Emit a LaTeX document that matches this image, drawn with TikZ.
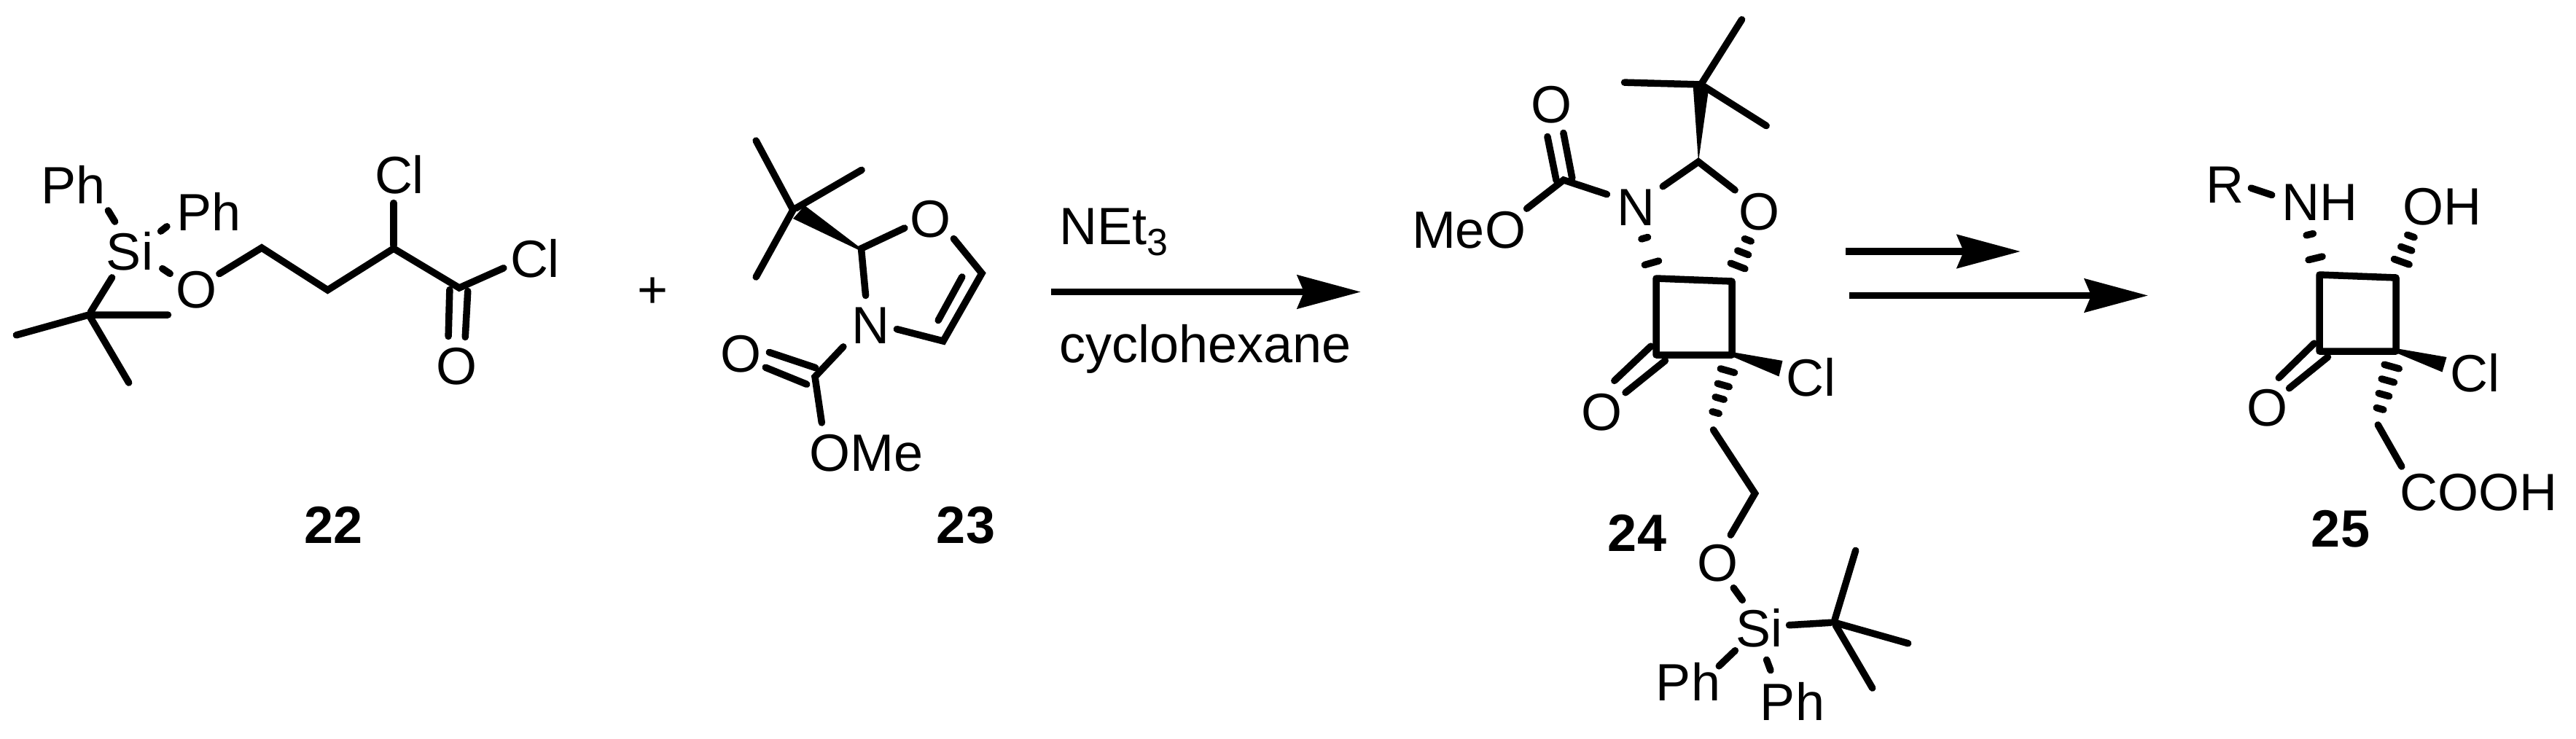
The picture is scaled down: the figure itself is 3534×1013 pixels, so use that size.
\documentclass[tikz,border=0pt]{standalone}
\usepackage{fontspec}
\setmainfont{Liberation Sans}
\usetikzlibrary{calc,arrows.meta}
\tikzset{
  bond/.style={line width=9.5pt,line cap=round,line join=miter,shorten >=4.5pt,shorten <=4.5pt},
  ringbond/.style={line width=9.5pt,line join=round},
  hash/.style={line width=9.5pt,line cap=round},
  wedge/.style={fill=black,draw=none},
  atom/.style={inner sep=0pt,text height=51.5pt,text depth=0pt,font=\fontsize{72}{80}\selectfont},
  cmpd/.style={inner sep=0pt,text height=51.5pt,text depth=0pt,font=\fontsize{72}{80}\selectfont\bfseries},
  cond/.style={inner sep=0pt,anchor=base west,font=\fontsize{72}{80}\selectfont},
  rxn/.style={line width=9.5pt,-{Stealth[length=87pt,width=45.5pt,inset=9pt]}}
}
\newcommand{\hashbond}[3]{\foreach \t/\w in {#3}{\path ($(#1)!\t!(#2)$) coordinate (hp); \draw[hash] ($(hp)!\w pt!90:(#2)$) -- ($(hp)!\w pt!-90:(#2)$);}}
\newcommand{\sh}[3]{([shift={(#2,#3)}]#1.center)}
\begin{document}
\begin{tikzpicture}[x=1pt,y=-1pt]
\useasboundingbox[fill=white] (0,0) rectangle (3534,1013);
% ---------- 22
\node[atom] (si1) at (178,345) {Si};
\node[atom] (ph1) at (101,254) {Ph};
\node[atom] (ph2) at (287,291) {Ph};
\node[atom] (o1) at (269,397) {O};
\node[atom] (cl1) at (548,240) {Cl};
\node[atom] (cl2) at (734,355) {Cl};
\node[atom] (o2) at (626,502) {O};
\node[cmpd] (l22) at (458,720) {22};
\coordinate (t1) at (122,432);
\coordinate (t1a) at (18,461);
\coordinate (t1b) at (235,432);
\coordinate (t1c) at (179,529);
\coordinate (a1) at (359,340);
\coordinate (a2) at (449.5,398);
\coordinate (a3) at (540,341);
\coordinate (a4) at (630,395);
\draw[bond] (t1a) -- (t1) -- (t1b);
\draw[bond] (t1) -- (t1c);
\draw[bond] (t1) -- \sh{si1}{-22}{32};
\draw[bond] \sh{si1}{-18}{-37} -- \sh{ph1}{45}{31};
\draw[bond] \sh{si1}{39}{-25} -- \sh{ph2}{-54.5}{17};
\draw[bond] \sh{si1}{41}{21} -- \sh{o1}{-32}{-19};
\draw[bond] \sh{o1}{28}{-19} -- (a1) -- (a2) -- (a3) -- (a4) -- \sh{cl2}{-39}{11};
\draw[bond] (a3) -- \sh{cl1}{-8}{34};
\draw[bond] ([shift={(-13,-2)}]a4) -- \sh{o2}{-11}{-36};
\draw[bond] ([shift={(12,0)}]a4) -- \sh{o2}{12}{-35};
% ---------- plus
\node[atom] (plus) at (895.5,397) {+};
% ---------- 23
\node[atom] (o3) at (1276.5,299.5) {O};
\node[atom] (n3) at (1194,446) {N};
\node[atom] (o4) at (1016.5,484.5) {O};
\node[atom] (ome) at (1188.5,621) {OMe};
\node[cmpd] (l23) at (1325,720) {23};
\coordinate (t3) at (1088,288);
\coordinate (t3a) at (1035,189);
\coordinate (t3b) at (1186,231);
\coordinate (t3c) at (1035,384);
\coordinate (b2) at (1181.5,341);
\coordinate (b5) at (1347,375);
\coordinate (b4) at (1294,468);
\coordinate (b6) at (1118,517);
\draw[bond] (t3a) -- (t3) -- (t3c);
\draw[bond] (t3) -- (t3b);
\fill[wedge] (1104,282) -- (b2) -- (1178,343) -- (1088,300) -- cycle;
\draw[bond] \sh{o3}{-31.5}{11.5} -- (b2) -- \sh{n3}{-6}{-36};
\draw[bond] \sh{o3}{29}{24.5} -- (b5) -- (b4) -- \sh{n3}{32}{4.5};
\draw[bond] ([shift={(-25,1)}]b5) -- ([shift={(-9,-24.5)}]b4);
\draw[bond] \sh{n3}{-34}{26.5} -- (b6) -- \sh{ome}{-60.5}{-36.5};
\draw[bond] ([shift={(5,-11)}]b6) -- \sh{o4}{34.5}{-2.5};
\draw[bond] ([shift={(-7,12)}]b6) -- \sh{o4}{29.5}{18};
% ---------- reaction arrow 1
\coordinate (r1s) at (1441.5,400.5);
\coordinate (r1e) at (1867,400.5);
\draw[rxn] (r1s) -- (r1e);
\node[cond] (net) at (1453.5,335) {NEt\raisebox{-15pt}{\fontsize{52}{52}\selectfont 3}};
\node[cond] (cyc) at (1453.5,497) {cyclohexane};
% ---------- 24
\node[atom] (o5) at (2413,290) {O};
\node[atom] (n5) at (2244,284) {N};
\node[atom] (o6) at (2128,143) {O};
\node[atom] (meo) at (2015,315) {MeO};
\node[atom] (o7) at (2197.5,564.5) {O};
\node[atom] (cl3) at (2484,518) {Cl};
\node[atom] (o8) at (2356.6,772) {O};
\node[atom] (si5) at (2413.5,862) {Si};
\node[atom] (ph5) at (2316,936) {Ph};
\node[atom] (ph6) at (2459,962.5) {Ph};
\node[cmpd] (l24) at (2246,730.5) {24};
\coordinate (t5) at (2333.5,116);
\coordinate (t5a) at (2392,23);
\coordinate (t5b) at (2224,113);
\coordinate (t5c) at (2427,175);
\coordinate (d2) at (2330,222);
\coordinate (d7) at (2145,247);
\coordinate (tl) at (2272,382);
\coordinate (tr) at (2376,386);
\coordinate (br) at (2376,487);
\coordinate (bl) at (2272,487);
\coordinate (e1) at (2348,586);
\coordinate (e2) at (2407.6,677);
\coordinate (t6) at (2516,854);
\coordinate (t6a) at (2547,751);
\coordinate (t6b) at (2622,884);
\coordinate (t6c) at (2571,948);
\draw[bond] (t5a) -- (t5) -- (t5b);
\draw[bond] (t5) -- (t5c);
\fill[wedge] (2322.7,118) -- (d2) -- (2344,123) -- cycle;
\draw[bond] \sh{n5}{33.5}{-25.6} -- (d2) -- \sh{o5}{-29.3}{-26.4};
\draw[bond] \sh{n5}{-35.3}{-16} -- (d7) -- \sh{meo}{76}{-26};
\draw[bond] ([shift={(-9,5)}]d7) -- \sh{o6}{-6}{40};
\draw[bond] ([shift={(12.7,2)}]d7) -- \sh{o6}{16}{35};
\draw[ringbond] (tl) -- (tr) -- (br) -- (bl) -- cycle;
\draw[bond] ([shift={(-4,-15)}]bl) -- \sh{o7}{14}{-39};
\draw[bond] ([shift={(16,5)}]bl) -- \sh{o7}{29}{-23};
\fill[wedge] ([shift={(0,-4)}]br) -- \sh{cl3}{-38.5}{-23} -- \sh{cl3}{-43.5}{-1.5} -- ([shift={(0,2)}]br) -- cycle;
\hashbond{tl}{n5.center}{.217/10,.564/4.5}
\hashbond{tr}{o5.center}{.219/10.6,.409/8,.59/4.8}
\hashbond{br}{e1}{.218/10,.419/8.3,.601/6.3,.799/4.8}
\draw[bond] (e1) -- (e2) -- \sh{o8}{15.4}{-34};
\draw[bond] \sh{o8}{19}{31} -- \sh{si5}{-20.5}{-35};
\draw[bond] \sh{si5}{36.5}{-4} -- (t6);
\draw[bond] (t6a) -- (t6) -- (t6b);
\draw[bond] (t6) -- (t6c);
\draw[bond] \sh{si5}{-29.8}{27.5} -- \sh{ph5}{39}{-19};
\draw[bond] \sh{si5}{8.5}{39} -- \sh{ph6}{-28.4}{-38.5};
% ---------- arrows 2
\coordinate (r2s) at (2532,345);
\coordinate (r2e) at (2772,345);
\coordinate (r3s) at (2537,405.5);
\coordinate (r3e) at (2947,405.5);
\draw[rxn] (r2s) -- (r2e);
\draw[rxn] (r3s) -- (r3e);
% ---------- 25
\node[atom] (r) at (3052,253) {R};
\node[atom] (nh) at (3182,277) {NH};
\node[atom] (oh) at (3350,283) {OH};
\node[atom] (o9) at (3110,558.6) {O};
\node[atom] (cl4) at (3395,512) {Cl};
\node[atom] (cooh) at (3400,675) {COOH};
\node[cmpd] (l25) at (3211,725) {25};
\coordinate (rtl) at (3182,377);
\coordinate (rtr) at (3287,381);
\coordinate (rbr) at (3287,482);
\coordinate (rbl) at (3182,482);
\coordinate (f1) at (3260,579);
\coordinate (nhn) at (3158,277);
\coordinate (oho) at (3322,283);
\draw[bond] \sh{r}{32}{3.6} -- \sh{nh}{-61}{-8};
\draw[ringbond] (rtl) -- (rtr) -- (rbr) -- (rbl) -- cycle;
\draw[bond] ([shift={(-4,-14)}]rbl) -- \sh{o9}{13}{-37};
\draw[bond] ([shift={(15,5)}]rbl) -- \sh{o9}{27}{-23};
\fill[wedge] ([shift={(0,-4)}]rbr) -- \sh{cl4}{-38.5}{-22} -- \sh{cl4}{-44.5}{-1.5} -- ([shift={(0,2)}]rbr) -- cycle;
\hashbond{rtl}{nhn}{.227/9.8,.553/4.8}
\hashbond{rtr}{oho}{.222/11,.406/8,.582/5}
\hashbond{rbr}{f1}{.217/10.5,.415/9,.615/7.5,.813/5}
\draw[bond] (f1) -- \sh{cooh}{-103}{-31};
\end{tikzpicture}
\end{document}
